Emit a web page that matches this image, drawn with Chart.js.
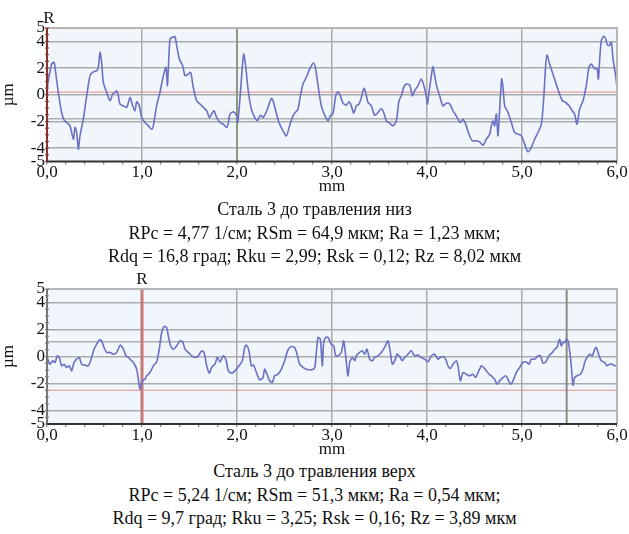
<!DOCTYPE html>
<html><head><meta charset="utf-8">
<script src="https://cdn.jsdelivr.net/npm/chart.js@4/dist/chart.umd.min.js"></script>
<style>
html,body{margin:0;padding:0;background:#fff;width:629px;height:534px;overflow:hidden;}
canvas{position:absolute;left:0;}
.cap{position:absolute;left:0;width:629px;text-align:center;font-family:'Liberation Serif','Times New Roman',serif;font-size:18px;line-height:23.5px;color:#111;white-space:nowrap;}
</style></head><body>
<canvas id="c1" width="629" height="195" style="top:0px"></canvas>
<canvas id="c2" width="629" height="196" style="top:262px"></canvas>
<div class="cap" style="top:198px">Сталь 3 до травления низ<br>RPc = 4,77 1/см; RSm = 64,9 мкм; Ra = 1,23 мкм;<br>Rdq = 16,8 град; Rku = 2,99; Rsk = 0,12; Rz = 8,02 мкм</div>
<div class="cap" style="top:460px">Сталь 3 до травления верх<br>RPc = 5,24 1/см; RSm = 51,3 мкм; Ra = 0,54 мкм;<br>Rdq = 9,7 град; Rku = 3,25; Rsk = 0,16; Rz = 3,89 мкм</div>
<script>
// ---- data (x in mm, y in µm) ----
const topX = [0.00,0.014,0.049,0.074,0.091,0.119,0.154,0.179,0.207,0.242,0.277,0.295,0.312,0.330,0.347,0.382,0.418,0.453,0.481,0.523,0.540,0.558,0.575,0.593,0.628,0.663,0.691,0.716,0.733,0.751,0.768,0.804,0.839,0.874,0.902,0.926,0.944,0.972,0.996,1.032,1.067,1.102,1.119,1.154,1.189,1.225,1.253,1.267,1.277,1.295,1.319,1.347,1.365,1.393,1.428,1.453,1.488,1.512,1.540,1.575,1.611,1.646,1.681,1.709,1.733,1.758,1.786,1.821,1.856,1.891,1.909,1.926,1.961,1.996,2.007,2.028,2.049,2.070,2.091,2.116,2.151,2.186,2.214,2.246,2.274,2.302,2.326,2.361,2.379,2.407,2.442,2.484,2.519,2.554,2.582,2.607,2.642,2.667,2.695,2.730,2.765,2.807,2.828,2.853,2.888,2.923,2.958,2.982,3.011,3.039,3.063,3.088,3.116,3.151,3.179,3.204,3.228,3.256,3.284,3.309,3.337,3.354,3.379,3.414,3.449,3.484,3.519,3.544,3.572,3.607,3.642,3.677,3.705,3.730,3.754,3.782,3.818,3.846,3.870,3.905,3.940,3.965,3.990,4.005,4.021,4.046,4.063,4.081,4.105,4.133,4.168,4.204,4.239,4.274,4.302,4.326,4.351,4.379,4.414,4.442,4.477,4.519,4.554,4.589,4.625,4.660,4.677,4.695,4.712,4.730,4.747,4.765,4.786,4.800,4.818,4.853,4.888,4.923,4.958,4.993,5.028,5.063,5.098,5.133,5.168,5.204,5.228,5.249,5.263,5.291,5.319,5.354,5.389,5.425,5.460,5.495,5.530,5.554,5.579,5.607,5.642,5.677,5.705,5.730,5.765,5.789,5.804,5.818,5.835,5.860,5.881,5.895,5.916,5.940,5.958,5.986,6.000];
const topY = [0.3,1.05,2.3,2.43,1.68,0.18,-1.33,-1.88,-2.08,-2.33,-3.33,-2.45,-2.83,-4.08,-3.08,-1.83,-0.08,1.43,1.68,1.8,2.05,3.18,2.43,0.93,0.18,-0.45,0.05,0.18,0.3,-0.08,-0.7,-0.83,-0.95,-0.2,-0.83,-1.2,-0.53,-0.83,-1.7,-2.08,-2.33,-2.58,-2.33,-0.83,0.18,1.43,2.05,0.68,1.93,4.18,4.3,4.35,3.68,2.68,2.18,1.43,1.55,1.68,0.55,-0.45,-0.7,-0.95,-1.2,-1.7,-1.45,-1.2,-1.7,-2.08,-2.2,-2.45,-2.08,-1.45,-1.28,-1.58,-2.08,-0.58,1.43,3.05,2.18,0.43,-1.08,-1.7,-1.95,-1.53,-1.7,-1.38,-0.95,-0.28,-0.45,-1.2,-2.08,-2.7,-3.08,-2.33,-1.7,-1.38,-1.08,-0.08,0.8,1.3,1.93,2.38,1.93,0.68,-0.83,-1.53,-1.95,-1.58,-1.38,-0.08,0.23,-0.08,-0.63,-0.78,-0.53,-0.83,-1.38,-0.83,-0.7,-0.2,0.48,0.18,-0.58,-0.83,-1.53,-1.33,-1.03,-1.33,-1.95,-2.13,-2.33,-1.95,-0.45,-0.08,0.55,0.8,0.73,-0.08,0.3,0.68,1.18,0.73,0.0,-0.7,0.18,1.43,2.13,1.43,0.55,-0.08,-0.83,-0.63,-0.7,-1.2,-1.53,-1.83,-2.08,-1.83,-2.33,-2.95,-3.45,-3.45,-3.53,-3.78,-3.33,-2.95,-2.33,-1.95,-2.33,-1.45,-3.08,-1.08,1.18,0.55,-0.83,-1.33,-2.08,-2.83,-2.95,-3.08,-3.7,-4.28,-3.95,-3.33,-2.83,-2.2,-0.33,2.18,2.98,2.3,1.68,0.93,0.18,-0.45,-0.58,-0.83,-1.2,-1.45,-2.2,-1.08,-0.45,0.68,2.05,2.3,1.93,1.98,1.18,2.68,4.05,4.38,4.18,3.8,3.68,3.93,2.68,1.43,0.55];
const botX = [0.000,0.032,0.060,0.084,0.109,0.130,0.154,0.179,0.207,0.235,0.260,0.284,0.312,0.340,0.365,0.400,0.435,0.470,0.495,0.523,0.551,0.575,0.600,0.628,0.663,0.698,0.733,0.761,0.775,0.804,0.832,0.856,0.874,0.909,0.944,0.961,0.979,0.996,1.014,1.032,1.049,1.084,1.119,1.154,1.182,1.207,1.232,1.260,1.277,1.302,1.330,1.365,1.400,1.428,1.453,1.488,1.523,1.558,1.593,1.628,1.653,1.681,1.709,1.733,1.768,1.793,1.821,1.856,1.884,1.909,1.944,1.979,2.021,2.056,2.081,2.098,2.126,2.151,2.175,2.204,2.239,2.274,2.291,2.316,2.344,2.372,2.396,2.432,2.467,2.502,2.537,2.572,2.607,2.632,2.660,2.695,2.730,2.782,2.818,2.835,2.853,2.877,2.898,2.912,2.933,2.958,2.993,3.018,3.039,3.063,3.098,3.123,3.144,3.168,3.186,3.214,3.239,3.256,3.291,3.319,3.344,3.368,3.396,3.425,3.449,3.484,3.519,3.554,3.589,3.614,3.635,3.660,3.684,3.712,3.740,3.765,3.800,3.835,3.870,3.905,3.940,3.975,4.011,4.046,4.081,4.116,4.140,4.168,4.196,4.221,4.246,4.274,4.309,4.326,4.351,4.379,4.414,4.449,4.484,4.512,4.537,4.572,4.596,4.625,4.653,4.677,4.712,4.737,4.765,4.800,4.828,4.853,4.877,4.905,4.940,4.975,5.011,5.046,5.074,5.098,5.133,5.168,5.193,5.221,5.249,5.284,5.319,5.344,5.368,5.396,5.414,5.432,5.449,5.467,5.484,5.502,5.519,5.537,5.554,5.579,5.614,5.642,5.660,5.684,5.712,5.740,5.765,5.782,5.811,5.835,5.870,5.895,5.923,5.951,5.975,6.000];
const botY = [-0.07,-0.57,-0.32,-0.44,0.05,-0.07,-0.69,-0.57,-0.81,-0.69,-1.06,-0.44,-0.2,-0.07,-0.57,-0.64,-0.69,-0.07,0.54,0.91,1.23,1.16,0.67,0.3,0.3,0.17,0.3,0.74,0.84,0.54,0.05,-0.07,-0.2,-0.44,-0.94,-1.68,-2.42,-1.93,-1.73,-1.68,-1.43,-1.19,-0.69,-0.4,0.54,1.78,2.22,2.15,1.53,0.79,0.54,0.79,1.16,1.09,0.54,0.3,0.05,-0.07,0.05,0.42,0.3,-0.69,-1.23,-0.81,-0.57,-0.07,-0.4,0.05,-0.25,-1.06,-1.23,-1.06,-0.69,-0.32,0.67,0.84,0.42,-0.69,-0.64,-1.19,-1.73,-1.56,-0.94,-1.31,-1.8,-1.93,-1.43,-1.31,-0.94,-0.32,0.49,0.74,0.67,0.17,-0.57,-0.81,-0.94,-0.99,-0.81,0.3,1.41,1.28,-0.69,1.04,1.41,1.41,0.91,0.79,0.05,0.05,0.3,1.16,0.05,-1.43,-0.44,-0.07,-0.32,0.05,0.3,0.42,0.17,0.54,-0.2,-0.32,-0.07,0.05,0.3,0.67,1.16,0.3,-0.57,-0.32,0.17,0.0,-0.32,-0.07,0.17,0.42,0.05,0.1,-0.07,-0.2,-0.4,0.05,0.17,-0.2,-0.07,0.0,-0.2,-0.69,-0.89,-0.57,-0.32,-0.69,-1.8,-1.19,-1.31,-1.43,-1.31,-1.56,-1.19,-0.69,-0.81,-1.06,-1.31,-1.43,-1.68,-2.05,-1.8,-1.56,-1.43,-1.68,-2.05,-1.8,-1.19,-0.81,-0.44,-0.4,-0.57,-0.2,-0.2,0.05,0.05,-0.49,-0.4,0.05,0.3,0.54,0.67,1.28,0.79,1.04,1.04,1.28,1.16,0.42,-0.69,-2.12,-1.56,-1.43,-1.31,-0.94,-0.44,-0.07,0.17,0.05,0.54,0.67,0.05,-0.32,-0.44,-0.69,-0.57,-0.57,-0.69,-0.64];
const yTicks = [5, 4, 2, 0, -2, -4, -5];
const xTickLabels = ['0,0','1,0','2,0','3,0','4,0','5,0','6,0'];
// reference lines
const topRedLevel = 0.2, topGreyLevel = -1.8, topCursorX = 2.0;
const botRedLevel = -2.5, botGreyLevel = 1.1, botRCursorX = 1.0, botCursorX = 5.47;

const FONT = "'Liberation Serif','Times New Roman',serif";
const GRID = '#ababab';

function pts(xs, ys){ return xs.map((x,i)=>({x:x, y:ys[i]})); }
function hline(v, color, w){ return {data:[{x:0,y:v},{x:6,y:v}], borderColor:color, borderWidth:w, pointRadius:0, order:5}; }
function vline(v, color, w){ return {data:[{x:v,y:-5},{x:v,y:5}], borderColor:color, borderWidth:w, pointRadius:0, order:4}; }

const bgPlugin = {
  id:'bg',
  beforeDraw(chart){
    const a = chart.chartArea, c = chart.ctx;
    c.save(); c.fillStyle = '#f0f6fc'; c.fillRect(a.left, a.top, a.right-a.left, a.bottom-a.top); c.restore();
  },
  afterDraw(chart){
    const a = chart.chartArea, c = chart.ctx, o = chart.options.plugins.bg;
    c.save();
    c.strokeStyle = '#b5b5b5'; c.lineWidth = 2;
    c.beginPath(); c.moveTo(a.left, a.top); c.lineTo(a.right, a.top); c.lineTo(a.right, a.bottom); c.stroke();
    // left axis with minor ticks
    c.strokeStyle = o.axisColor; c.lineWidth = 2;
    c.beginPath(); c.moveTo(a.left, a.top); c.lineTo(a.left, a.bottom); c.stroke();
    const ys = chart.scales.y;
    c.lineWidth = 1;
    for (let v=-5; v<=5.001; v+=0.5){ const py = ys.getPixelForValue(v); c.beginPath(); c.moveTo(a.left-2, py); c.lineTo(a.left+2, py); c.stroke(); }
    c.strokeStyle = '#333'; c.lineWidth = 2;
    c.beginPath(); c.moveTo(a.left, a.bottom); c.lineTo(a.right, a.bottom); c.stroke();
    // R label
    c.fillStyle = '#111'; c.font = '17px ' + FONT; c.textAlign = 'center'; c.textBaseline = 'bottom';
    c.fillText('R', chart.scales.x.getPixelForValue(o.rX) + o.rDx, a.top + o.rDy);
    c.restore();
  }
};

function makeChart(id, xs, ys, extra, bgOpts, topPad, xAxisH){
  return new Chart(document.getElementById(id), {
    type:'line',
    data:{datasets:[
      {data:pts(xs, ys), borderColor:'#6b70c4', borderWidth:1.6, pointRadius:0, tension:0.25, order:1}
    ].concat(extra)},
    options:{
      responsive:false, animation:false, devicePixelRatio:1,
      layout:{padding:{top:topPad, right:12, left:0, bottom:0}},
      plugins:{legend:{display:false}, tooltip:{enabled:false}, bg:bgOpts},
      scales:{
        x:{type:'linear', min:0, max:6,
          afterBuildTicks(s){ const t=[]; for(let i=0;i<=30;i++) t.push({value:i*0.2}); s.ticks=t; },
          afterFit(s){ s.height = xAxisH; },
          border:{display:false},
          grid:{drawOnChartArea:true, lineWidth:1.5, tickLength:3,
            color:(c)=>{ const v=c.tick?c.tick.value:0; const r=Math.abs(v-Math.round(v))<1e-6; return (r && v>0.01 && v<5.99) ? GRID : 'rgba(0,0,0,0)'; },
            tickColor:'#666', tickWidth:1},
          ticks:{autoSkip:false, maxRotation:0, padding:0, color:'#111', font:{family:FONT, size:17, lineHeight:1},
            callback:(v)=>{ const r=Math.abs(v-Math.round(v))<1e-6; return r ? xTickLabels[Math.round(v)] : ''; }},
          title:{display:true, text:'mm', color:'#111', font:{family:FONT, size:17, lineHeight:1}, padding:{top:0,bottom:0}}
        },
        y:{type:'linear', min:-5, max:5,
          afterBuildTicks(s){ s.ticks = yTicks.map(v=>({value:v})); },
          afterFit(s){ s.width = 47; },
          border:{display:false},
          grid:{lineWidth:1.5, drawTicks:false,
            color:(c)=>{ const v=c.tick?c.tick.value:0; return (Math.abs(v)<4.5) ? GRID : 'rgba(0,0,0,0)'; }},
          ticks:{autoSkip:false, padding:2, color:'#111', font:{family:FONT, size:17, lineHeight:0.8}},
          title:{display:true, text:'µm', color:'#111', font:{family:FONT, size:17, lineHeight:1}, padding:{top:0,bottom:4}}
        }
      }
    },
    plugins:[bgPlugin]
  });
}

makeChart('c1', topX, topY,
  [hline(topRedLevel,'#e0a0a0',1.2), hline(topGreyLevel,'#b0b0b0',1.5), vline(topCursorX,'#8c9a80',2)],
  {axisColor:'#8b3030', rX:0, rDx:2, rDy:-1}, 28, 33.5);

makeChart('c2', botX, botY,
  [hline(botRedLevel,'#e09090',1.2), hline(botGreyLevel,'#b0b0b0',1.5), vline(botRCursorX,'#c87878',3), vline(botCursorX,'#8a8a80',2)],
  {axisColor:'#777', rX:botRCursorX, rDx:0, rDy:-1}, 27, 34);
</script>
</body></html>
